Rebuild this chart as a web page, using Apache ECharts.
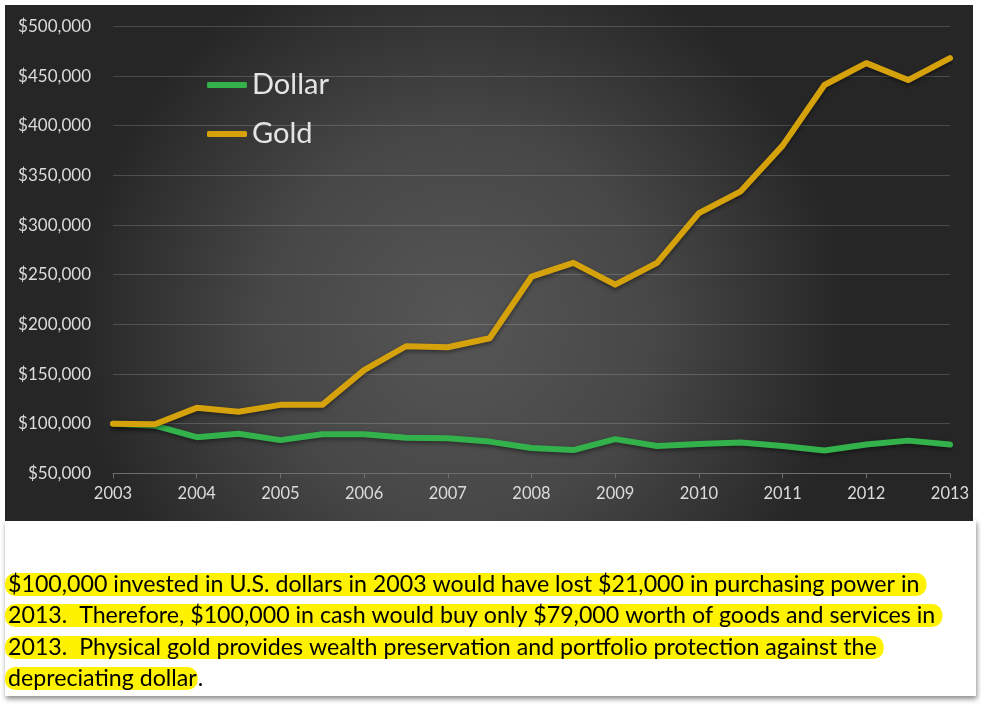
<!DOCTYPE html>
<html>
<head>
<meta charset="utf-8">
<script src="https://cdn.jsdelivr.net/npm/echarts@6/dist/echarts.min.js"></script>
<style>
  html, body { margin: 0; padding: 0; background: #ffffff; }
  #chart { width: 981px; height: 707px; }
</style>
</head>
<body>
<div id="chart"></div>
<script>
// ---- data ----
const categories = ['2003','2003.5','2004','2004.5','2005','2005.5','2006','2006.5','2007','2007.5',
                    '2008','2008.5','2009','2009.5','2010','2010.5','2011','2011.5','2012','2012.5','2013'];
const dollarValues = [100000, 98000, 86500, 90000, 83500, 89500, 89500, 86000, 85500, 82000,
                      75500, 73500, 84500, 77500, 79500, 81000, 77500, 73000, 79000, 83000, 79000];
const goldValues = [100000, 99500, 116000, 112000, 119000, 119000, 154000, 178000, 177000, 186000,
                    248000, 262000, 240000, 262000, 312000, 334000, 380000, 441000, 463000, 446000, 468000];
const seriesNames = ['Dollar', 'Gold'];
const yMin = 50000, yMax = 500000, yStep = 50000;
const noteLines = [
  '$100,000 invested in U.S. dollars in 2003 would have lost $21,000 in purchasing power in',
  '2013.  Therefore, $100,000 in cash would buy only $79,000 worth of goods and services in',
  '2013.  Physical gold provides wealth preservation and portfolio protection against the',
  'depreciating dollar'
];
const noteTail = ['', '', '', '.'];

// ---- chart ----
const chart = echarts.init(document.getElementById('chart'), null, { renderer: 'canvas' });
const FONT = 'Lato, "Open Sans", sans-serif';
const NOTE_SIZE = 23.2;

const noteGraphics = noteLines.map((t, i) => ({
  type: 'text',
  left: 5,
  top: [573, 604, 636, 667][i],
  z: 10,
  style: {
    text: '{h|' + t + '}' + (noteTail[i] ? '{p|' + noteTail[i] + '}' : ''),
    fill: '#000000',
    font: NOTE_SIZE + 'px ' + FONT,
    rich: {
      h: {
        backgroundColor: '#fff200',
        borderRadius: 10,
        padding: [0, i === 3 ? 1 : 7, 0, 3],
        lineHeight: 20,
        fontSize: NOTE_SIZE,
        fontFamily: FONT,
        fill: '#000000'
      },
      p: { lineHeight: 20, fontSize: NOTE_SIZE, fontFamily: FONT, fill: '#000000' }
    }
  }
}));

const option = {
  backgroundColor: '#ffffff',
  animation: false,
  graphic: [
    {
      type: 'rect', z: -20,
      shape: { x: 5, y: 520, width: 971, height: 176 },
      style: { fill: '#ffffff', shadowBlur: 5, shadowOffsetY: 3, shadowOffsetX: 1, shadowColor: 'rgba(0,0,0,0.45)' }
    },
    {
      type: 'rect', z: -10,
      shape: { x: 5, y: 5, width: 968, height: 516 },
      style: {
        fill: new echarts.graphic.RadialGradient(0.47, 0.62, 0.75, [
          { offset: 0, color: '#565656' },
          { offset: 0.5, color: '#474747' },
          { offset: 1, color: '#262626' }
        ])
      }
    }
  ].concat(noteGraphics),
  legend: {
    orient: 'vertical',
    left: 207,
    top: 70,
    padding: 0,
    itemWidth: 40,
    itemHeight: 6,
    itemGap: 19,
    icon: 'roundRect',
    data: seriesNames,
    textStyle: { color: '#e4e4e4', fontSize: 29, fontFamily: FONT, lineHeight: 30 }
  },
  grid: { left: 113, right: 31, top: 26.4, bottom: 233.6, containLabel: false },
  xAxis: {
    type: 'category',
    data: categories,
    boundaryGap: false,
    axisLine: { lineStyle: { color: '#6e6e6e', width: 1 } },
    axisTick: { show: true, interval: 1, length: 5, lineStyle: { color: '#6e6e6e' } },
    axisLabel: { interval: 1, color: '#dcdcdc', fontSize: 16.5, fontFamily: FONT, margin: 12 },
    splitLine: { show: false }
  },
  yAxis: {
    type: 'value',
    min: yMin, max: yMax, interval: yStep,
    axisLine: { show: false },
    axisTick: { show: false },
    axisLabel: {
      color: '#dcdcdc', fontSize: 17, fontFamily: FONT, margin: 22,
      formatter: v => '$' + v.toLocaleString('en-US')
    },
    splitLine: { lineStyle: { color: 'rgba(255,255,255,0.17)', width: 1 } }
  },
  series: [
    {
      name: seriesNames[0], type: 'line', data: dollarValues,
      symbol: 'none', color: '#33b24c',
      lineStyle: { width: 6, cap: 'round', join: 'round', color: '#33b24c',
                   shadowColor: 'rgba(0,0,0,0.45)', shadowBlur: 4, shadowOffsetY: 2 },
      z: 3
    },
    {
      name: seriesNames[1], type: 'line', data: goldValues,
      symbol: 'none', color: '#d6a20c',
      lineStyle: { width: 6, cap: 'round', join: 'round', color: '#d6a20c',
                   shadowColor: 'rgba(0,0,0,0.45)', shadowBlur: 4, shadowOffsetY: 2 },
      z: 4
    }
  ]
};
chart.setOption(option);
</script>
</body>
</html>
